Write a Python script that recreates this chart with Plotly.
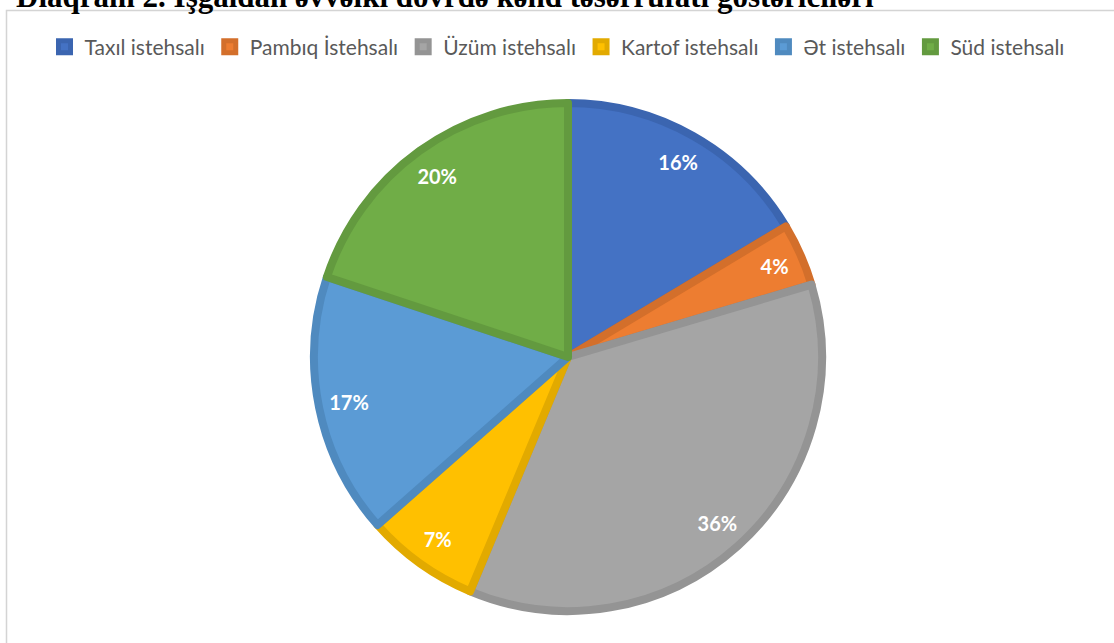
import plotly.graph_objects as go

categories = ["Taxıl istehsalı", "Pambıq İstehsalı", "Üzüm istehsalı",
              "Kartof istehsalı", "Ət istehsalı", "Süd istehsalı"]
values = [16.4, 4.0, 35.9, 7.2, 16.6, 19.9]
fill_colors = ["#4472C4", "#ED7D31", "#A5A5A5", "#FFC000", "#5B9BD5", "#70AD47"]
edge_colors = ["#3B65B0", "#D36F2B", "#949494", "#E2AA00", "#4F8ABF", "#639A3F"]
title_text = "Diaqram 2. İşğaldan əvvəlki dövrdə kənd təsərrüfatı göstəriciləri"

W, H = 1114, 643
cx, cy, r = 568, 357, 254  # pixel centre and radius of the pie

dom_x = [(cx - r) / W, (cx + r) / W]
dom_y = [(H - cy - r) / H, (H - cy + r) / H]

fig = go.Figure()

fig.add_trace(go.Pie(
    labels=categories, values=values, sort=False, direction="clockwise",
    marker=dict(colors=fill_colors, line=dict(color=edge_colors, width=8)),
    textinfo="none", domain=dict(x=dom_x, y=dom_y), hoverinfo="label+percent",
    showlegend=True,
))

# transparent ring used only to place the percentage labels near the rim
fig.add_trace(go.Pie(
    labels=categories, values=values, sort=False, direction="clockwise",
    hole=0.76,
    marker=dict(colors=["rgba(0,0,0,0)"] * len(values), line=dict(width=0)),
    texttemplate="<b>%{percent:.0%}</b>", textposition="inside",
    insidetextorientation="horizontal",
    insidetextfont=dict(family="Lato", size=20, color="white"),
    domain=dict(x=dom_x, y=dom_y), showlegend=False, hoverinfo="skip",
))

fig.update_layout(
    width=W, height=H,
    margin=dict(l=0, r=0, t=0, b=0),
    paper_bgcolor="white", plot_bgcolor="white",
    legend=dict(orientation="h", x=0.5, xanchor="center",
                y=1 - 47 / H, yanchor="middle",
                font=dict(family="Lato", size=21, color="#595959"),
                traceorder="normal", itemclick=False),
    shapes=[dict(type="rect", xref="paper", yref="paper",
                 x0=6.5 / W, x1=1.05, y0=-0.05, y1=1 - 10.5 / H,
                 line=dict(color="#D4D4D4", width=1.5), fillcolor="rgba(0,0,0,0)",
                 layer="below")],
    annotations=[dict(text="<b>" + title_text + "</b>", xref="paper", yref="paper",
                      x=14 / W, y=1 + 4 / H, xanchor="left", yanchor="middle",
                      showarrow=False,
                      font=dict(family="Liberation Serif", size=31, color="black"))],
)

fig.write_html("out.html", config={"displayModeBar": False},
               post_script="document.body.style.margin='0px';document.body.style.padding='0px';")
